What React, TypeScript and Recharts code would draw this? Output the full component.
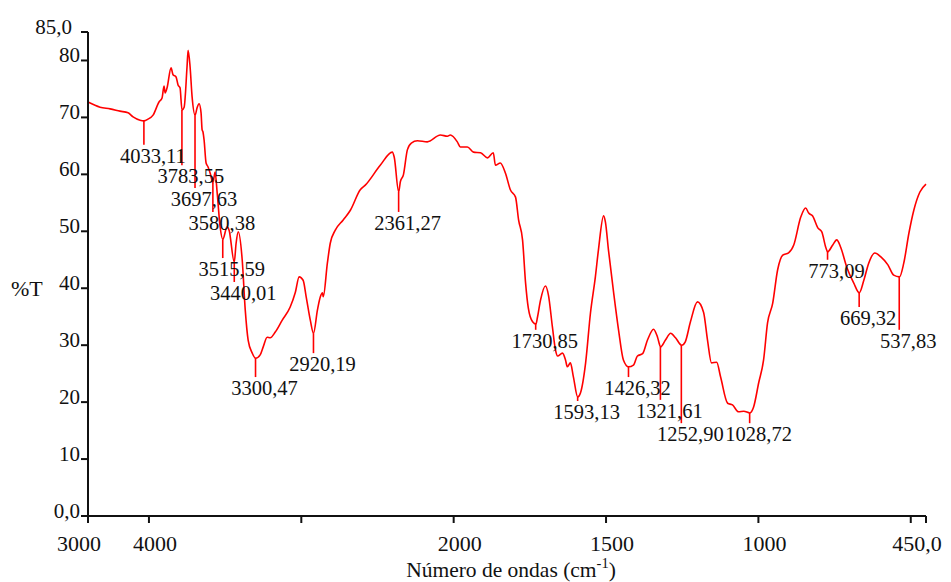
import React from 'react';
import { ComposedChart, Line, Scatter, XAxis, YAxis, ReferenceLine } from 'recharts';

// IR spectrum, wavenumbers (cm-1) and %T
const wavenumbers = [
  4400, 4321, 4255, 4190, 4137, 4104, 4058, 4033, 4006, 3973, 3934, 3914, 3901, 3894, 3881, 3855,
  3842, 3822, 3809, 3796, 3783, 3769, 3750, 3743, 3730, 3717, 3697, 3684, 3671, 3658, 3651, 3645,
  3638, 3625, 3612, 3598, 3580, 3566, 3552, 3533, 3515, 3487, 3474, 3440, 3428, 3414, 3388, 3368,
  3349, 3322, 3300, 3270, 3250, 3224, 3204, 3171, 3125, 3073, 3040, 3014, 2988, 2968, 2941, 2920,
  2894, 2875, 2861, 2856, 2829, 2810, 2777, 2725, 2678, 2613, 2580, 2482, 2403, 2390, 2361, 2350,
  2330, 2304, 2278, 2238, 2173, 2087, 2041, 2022, 1988, 1978, 1955, 1935, 1912, 1889, 1870, 1863,
  1847, 1830, 1814, 1797, 1787, 1774, 1764, 1755, 1741, 1730, 1725, 1715, 1699, 1689, 1676, 1666,
  1659, 1643, 1633, 1627, 1617, 1607, 1593, 1584, 1567, 1551, 1535, 1525, 1508, 1502, 1492, 1475,
  1459, 1443, 1426, 1410, 1397, 1380, 1364, 1344, 1331, 1321, 1305, 1288, 1272, 1252, 1240, 1223,
  1200, 1180, 1167, 1154, 1137, 1124, 1101, 1085, 1065, 1048, 1028, 1016, 999, 983, 970, 953,
  937, 920, 901, 884, 861, 845, 835, 822, 805, 792, 779, 773, 756, 743, 730, 710,
  687, 669, 654, 638, 618, 598, 575, 556, 537, 523, 506, 490, 470, 450,
];
const transmittance = [
  72.7, 71.8, 71.5, 71.1, 70.8, 70.1, 69.5, 69.4, 69.7, 70.4, 72.7, 73.4, 75.5, 74.3, 75.2, 78.7,
  77.5, 77.1, 75.7, 75.2, 71.3, 71.8, 78.9, 81.8, 78.9, 73.7, 70.4, 71.7, 72.4, 70.8, 67.8, 67.4,
  66.0, 62.0, 61.3, 60.2, 58.5, 60.4, 56.7, 50.8, 48.6, 50.8, 50.2, 44.6, 47.9, 49.9, 45.0, 36.2,
  30.9, 28.6, 27.7, 28.3, 29.7, 31.4, 31.3, 32.3, 34.4, 36.7, 39.2, 42.0, 41.4, 38.5, 34.4, 32.1,
  36.2, 38.5, 39.2, 38.5, 44.4, 47.9, 50.2, 52.0, 53.7, 57.3, 58.1, 61.6, 63.9, 63.0, 56.9, 58.7,
  59.9, 64.3, 65.5, 65.9, 65.7, 66.9, 66.7, 66.9, 65.7, 64.8, 64.8, 63.9, 63.8, 62.9, 63.8, 61.6,
  62.0, 60.2, 57.3, 56.0, 52.0, 48.5, 40.9, 36.5, 34.1, 33.7, 34.9, 37.9, 40.4, 38.8, 33.2, 29.2,
  28.1, 28.6, 27.4, 26.2, 26.9, 24.4, 20.9, 21.6, 26.9, 35.7, 42.0, 46.7, 52.7, 51.6, 46.7, 39.2,
  32.7, 27.4, 26.2, 26.5, 28.1, 28.5, 30.9, 32.8, 31.4, 29.7, 30.9, 32.1, 31.3, 30.0, 30.6, 34.1,
  37.6, 35.8, 30.9, 26.9, 27.0, 24.4, 19.8, 19.5, 18.3, 18.4, 18.1, 19.1, 23.4, 27.4, 33.9, 37.4,
  43.2, 45.8, 46.2, 47.6, 52.5, 54.1, 53.2, 52.7, 50.6, 49.9, 47.2, 46.4, 47.6, 48.5, 47.2, 43.7,
  40.9, 39.2, 41.4, 44.4, 46.2, 45.5, 44.1, 42.3, 42.0, 44.4, 49.7, 53.7, 56.9, 58.3,
];

// marked peaks: position, %T at the peak, %T where the marker line ends
const peakWn = [4033.11, 3783.55, 3697.63, 3580.38, 3515.59, 3440.01, 3300.47, 2920.19, 2361.27,
  1730.85, 1593.13, 1426.32, 1321.61, 1252.9, 1028.72, 773.09, 669.32, 537.83];
const peakTop = [69.4, 71.3, 70.4, 58.5, 48.6, 44.6, 27.7, 32.1, 56.9,
  33.7, 20.9, 26.2, 29.7, 30.0, 18.1, 46.4, 39.2, 42.0];
const peakEnd = [65.2, 61.6, 57.6, 53.4, 45.3, 41.1, 24.4, 28.6, 53.4,
  32.7, 20.2, 24.4, 20.4, 16.3, 16.3, 45.0, 36.7, 32.7];

const xTickWn = [4400, 4000, 3000, 2000, 1500, 1000, 500, 450];
const xTickLabels = ['3000', '4000', '', '2000', '1500', '1000', '', '450,0'];
const yTicks = [0, 10, 20, 30, 40, 50, 60, 70, 80, 85];
const yTickLabels = ['0,0', '10', '20', '30', '40', '50', '60', '70', '80', '85,0'];

// instrument scale: above 2000 cm-1 is compressed by half
const toU = (w: number) => (w > 2000 ? 2000 + (w - 2000) / 2 : w);

const spectrum = wavenumbers.map((w, i) => ({ u: toU(w), t: transmittance[i] }));
const peakLabels = peakWn.map((w, i) => ({
  u: toU(w),
  t: peakEnd[i],
  label: w.toFixed(2).replace('.', ','),
}));

const serif = { fontFamily: "'Liberation Serif', 'DejaVu Serif', serif" };
const RED = '#ff0000';

const XTick = (props: any) => {
  const { x, y, index } = props;
  const label = xTickLabels[index];
  if (!label) return null;
  const dx = index === 0 || index === xTickLabels.length - 1 ? -9 : 6;
  return (
    <text x={x + dx} y={y + 28} textAnchor="middle" style={serif} fontSize={22} fill="#111">
      {label}
    </text>
  );
};

const YTick = (props: any) => {
  const { x, y, index } = props;
  const dx = yTicks[index] === 85 ? -9 : -1;
  return (
    <text x={x + dx} y={y + 2} textAnchor="end" style={serif} fontSize={21} fill="#111">
      {yTickLabels[index]}
    </text>
  );
};

const PeakLabel = (props: any) => {
  const { cx, cy, payload } = props;
  return (
    <text x={cx + 9} y={cy + 18} textAnchor="middle" style={serif} fontSize={20.5} fill="#111">
      {payload.label}
    </text>
  );
};

export default function App() {
  return (
    <div style={{ position: 'absolute', left: 0, top: 0, width: 951, height: 582, background: '#fff' }}>
      <ComposedChart
        width={951}
        height={582}
        data={spectrum}
        margin={{ top: 32, right: 25, bottom: 26, left: 28 }}
      >
        <XAxis
          dataKey="u"
          type="number"
          domain={[450, 3200]}
          reversed
          ticks={xTickWn.map(toU)}
          interval={0}
          tick={<XTick />}
          tickSize={7}
          tickMargin={0}
          height={40}
          axisLine={{ stroke: '#111', strokeWidth: 2 }}
          tickLine={{ stroke: '#111', strokeWidth: 2 }}
          label={{
            content: () => (
              <text x={511} y={577} textAnchor="middle" style={serif} fontSize={21.5} fill="#111">
                Número de ondas (cm
                <tspan fontSize={14.5} dy={-9}>-1</tspan>
                <tspan dy={9}>)</tspan>
              </text>
            ),
          }}
        />
        <YAxis
          type="number"
          domain={[0, 85]}
          ticks={yTicks}
          interval={0}
          tick={<YTick />}
          tickSize={7}
          tickMargin={0}
          width={60}
          axisLine={{ stroke: '#111', strokeWidth: 2 }}
          tickLine={{ stroke: '#111', strokeWidth: 2 }}
          label={{
            content: () => (
              <text x={11} y={296} style={serif} fontSize={22} fill="#111">
                %T
              </text>
            ),
          }}
        />
        <Line
          dataKey="t"
          type="monotone"
          stroke={RED}
          strokeWidth={1.6}
          dot={false}
          activeDot={false}
          isAnimationActive={false}
        />
        {peakWn.map((w, i) => (
          <ReferenceLine
            key={w}
            segment={[
              { x: toU(w), y: peakTop[i] },
              { x: toU(w), y: peakEnd[i] },
            ]}
            stroke={RED}
            strokeWidth={1.6}
          />
        ))}
        <Scatter data={peakLabels} dataKey="t" shape={<PeakLabel />} isAnimationActive={false} />
      </ComposedChart>
    </div>
  );
}
